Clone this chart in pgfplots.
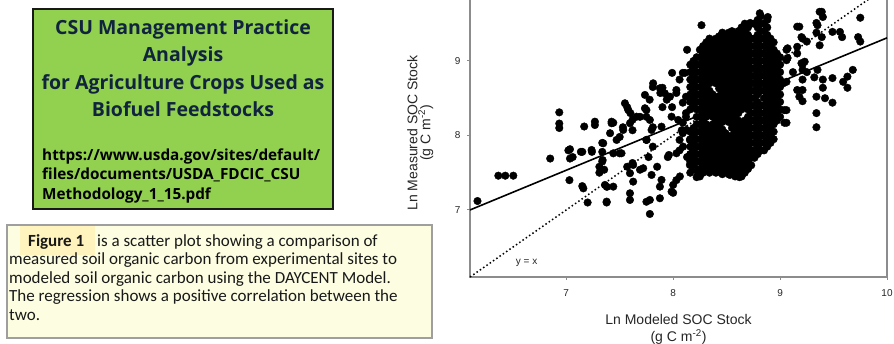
\documentclass[border=0pt]{standalone}
\usepackage{fontspec}
\usepackage{pgfplots}
\pgfplotsset{compat=1.18}
\setmainfont{Liberation Sans}
\newfontfamily\titlefont{Open Sans}
\newfontfamily\bodyfont{Carlito}
\definecolor{boxgreen}{RGB}{146,208,80}
\definecolor{navy}{RGB}{16,36,62}
\definecolor{paleyellow}{RGB}{253,253,226}
\definecolor{hlyellow}{RGB}{255,243,190}
\definecolor{axisgray}{RGB}{140,140,140}
\begin{document}
\begin{tikzpicture}
\path[use as bounding box, clip] (0,0) rectangle (894pt,-343pt);
\fill[white] (0,0) rectangle (894pt,-343pt);
\begin{scope}[x=1pt,y=-1pt]
 % green box
 \draw[line width=2.5pt, draw=black!90, fill=boxgreen] (33,9) rectangle (333,209);
 \begin{scope}[every node/.style={anchor=base, inner sep=0pt, text=navy, font=\titlefont\bfseries\fontsize{19.5}{24}\selectfont}]
  \node at (183,34) {CSU Management Practice};
  \node at (183,61.5) {Analysis};
  \node at (183,89) {for Agriculture Crops Used as};
  \node at (183,116) {Biofuel Feedstocks};
 \end{scope}
 \begin{scope}[every node/.style={anchor=base west, inner sep=0pt, text=black, font=\titlefont\bfseries\fontsize{15.3}{19}\selectfont}]
  \node at (42,160) {https://www.usda.gov/sites/default/};
  \node at (42,179.5) {files/documents/USDA\_FDCIC\_CSU};
  \node at (42,199) {Methodology\_1\_15.pdf};
 \end{scope}
 % yellow box
 \draw[draw=gray!75, line width=1.2pt, fill=paleyellow] (7,225) rectangle (432,338);
 \fill[hlyellow] (20,226) rectangle (95,255);
 \begin{scope}[every node/.style={anchor=base west, inner sep=0pt, text=black!90, font=\bodyfont\fontsize{17}{19}\selectfont}]
  \node[font=\bodyfont\bfseries\fontsize{17}{19}\selectfont] at (28,246) {Figure 1};
  \node at (97,246) {is a scatter plot showing a comparison of};
  \node at (9,264.5) {measured soil organic carbon from experimental sites to};
  \node at (9,283) {modeled soil organic carbon using the DAYCENT Model.};
  \node at (9,301.5) {The regression shows a positive correlation between the};
  \node at (9,320) {two.};
 \end{scope}
\end{scope}
\begin{axis}[
  at={(470pt,-277pt)}, anchor=south west,
  scale only axis, width=417pt, height=279pt,
  xmin=6.1, xmax=10, ymin=6.1, ymax=9.845,
  xtick={7,8,9,10}, ytick={7,8,9},
  tick pos=left, tick align=outside, major tick length=3pt,
  tick style={axisgray, line width=1pt},
  axis line style={axisgray, line width=1.6pt},
  /pgf/number format/assume math mode=true,
  ticklabel style={font=\fontsize{10}{10}\selectfont, text=black!85},
  xticklabel style={yshift=-6pt},
  yticklabel style={xshift=-3pt},
  clip=false,
  xlabel={Ln Modeled SOC Stock\\(g C m\textsuperscript{-2})},
  xlabel style={at={(axis description cs:0.5,-0.133)}, anchor=north, align=center, inner sep=0pt, font=\fontsize{14}{17}\selectfont, text=black!85},
  ylabel={Ln Measured SOC Stock\\(g C m\textsuperscript{-2})},
  ylabel style={at={(axis description cs:-0.0875,0.516)}, anchor=south, align=center, inner sep=0pt, font=\fontsize{14}{13}\selectfont, text=black!85},
]
\addplot[only marks, mark=*, mark size=3.8pt, black] coordinates {
(6.17,7.12) (6.365,7.46) (6.43,7.46) (6.505,7.46) (6.85,7.69) (6.935,8.31) (6.935,8.16) (6.935,8.10)
(7.035,7.815) (7.035,7.69) (7.03,7.40) (7.137,7.78) (7.168,8.12) (7.15,7.32) (7.16,7.29) (7.237,7.805)
(7.268,8.185) (7.268,8.14) (7.2,7.10) (7.337,7.90) (7.337,7.78) (7.337,7.65) (7.355,7.54) (7.362,7.336)
(7.378,7.10) (7.424,8.164) (7.02,7.8) (7.06,7.71) (7.15,7.78) (7.24,7.78) (7.31,7.58) (7.31,7.5)
(7.38,7.31) (7.44,7.313)
(7.813,8.70) (7.876,8.634) (7.922,8.566) (7.736,8.544) (7.736,8.365) (7.549,8.432) (7.58,8.342)
(7.658,8.252) (7.424,8.185) (7.533,8.074) (7.596,8.164) (7.471,7.94) (7.782,8.208) (7.798,8.074)
(7.891,8.118) (7.985,8.252) (8.047,8.208) (7.751,7.94) (7.346,7.895) (7.517,7.761) (7.626,7.604)
(7.596,7.493) (7.626,7.38) (7.596,7.224) (7.596,7.134) (7.378,7.112) (7.72,7.56) (7.798,7.47)
(7.891,7.403) (7.876,7.313) (7.782,7.134) (7.876,7.157) (7.782,6.946) (7.75,7.11) (8.063,7.45)
(8.0,7.336) (7.985,7.246) (8.0,7.23) (8.03,7.4) (7.96,7.738) (8.156,7.604) (8.219,7.537) (8.25,7.45)
(8.16,7.5) (8.22,7.44) (8.125,8.074) (8.156,7.94) (8.093,7.85) (8.031,7.761) (8.06,8.75) (8.09,8.84)
(8.03,8.57) (8.09,8.44) (8.12,8.3) (8.265,9.48) (8.13,7.71) (8.18,7.58) (8.23,7.47) (8.09,8.03)
(8.12,8.25) (7.5,7.98) (7.62,8.07) (7.75,7.94) (7.81,7.85) (7.77,7.71) (7.62,7.63) (7.57,7.58)
(7.69,7.54) (7.85,7.58) (7.95,7.71) (8.06,7.8) (8.06,7.94) (8.08,8.07) (8.09,8.17) (7.44,7.76)
(7.5,7.76) (7.34,7.67) (7.81,8.65) (7.88,8.57) (7.94,8.48) (7.9,8.38) (7.78,8.48) (7.75,8.34)
(7.75,8.25) (7.81,8.11) (7.69,8.25) (7.6,8.3) (7.57,8.38) (7.62,8.21) (7.53,8.11) (7.44,8.17)
(7.41,8.03) (7.99,8.84) (8.13,9.15) (8.03,8.61) (7.97,8.52) (7.99,8.38) (8.12,8.52)
(9.07,9.17) (9.16,9.10) (9.07,9.04) (9.18,9.46) (9.2,9.32) (9.25,9.26) (9.21,8.95) (9.12,8.85)
(9.06,8.72) (9.16,8.61) (9.18,8.52) (9.32,8.78) (9.34,8.30) (9.34,8.11) (9.04,8.34) (9.06,8.17)
(8.9,8.03) (8.88,7.91) (9.39,9.66) (9.40,9.59) (9.35,9.48) (9.34,9.38) (9.39,9.32) (9.37,9.21)
(9.56,9.39) (9.58,9.32) (9.75,9.58) (9.73,9.32) (9.75,9.26) (9.21,9.30) (9.23,8.99) (9.21,8.88)
(9.21,8.75) (9.21,8.61) (9.35,8.88) (9.40,8.75) (9.40,8.64) (9.34,8.52) (9.42,8.50) (9.49,8.44)
(9.49,8.77) (9.59,8.72) (9.63,8.64) (9.63,8.79) (9.68,8.88) (9.16,9.46) (9.16,9.19) (9.06,9.15)
(9.06,9.01) (9.2,8.97) (9.25,8.85) (9.34,9.51) (9.37,9.66) (9.49,9.39) (9.21,8.46) (8.885,9.59)
(8.81,9.64) (8.72,9.51) (8.11,8.84) (7.9,8.64) (9.03,8.7) (9.06,8.34) (9.04,8.17) (8.745,7.71)
(8.69,7.58) (8.89,7.98) (8.9,8.11) (8.44,7.54) (8.53,7.47) (8.62,7.44) (8.37,7.54)
(8.16,7.65) (8.16,7.75) (8.16,7.85) (8.16,7.95) (8.16,8.05) (8.16,8.35) (8.16,8.45) (8.16,8.55) (8.16,8.65) (8.16,8.75) (8.16,8.85) (8.16,8.95)
(8.22,7.55) (8.22,7.65) (8.22,7.75) (8.22,7.85) (8.22,7.95) (8.22,8.05) (8.22,8.15) (8.22,8.25) (8.22,8.35) (8.22,8.45) (8.22,8.55) (8.22,8.65) (8.22,8.75) (8.22,8.85) (8.22,8.95) (8.22,9.05)
(8.28,7.50) (8.28,7.60) (8.28,7.70) (8.28,7.80) (8.28,7.90) (8.28,8.00) (8.28,8.10) (8.28,8.20) (8.28,8.30) (8.28,8.40) (8.28,8.50) (8.28,8.60) (8.28,8.70) (8.28,8.80) (8.28,8.90) (8.28,9.00) (8.28,9.10) (8.28,9.20)
(8.34,7.50) (8.34,7.60) (8.34,7.70) (8.34,7.80) (8.34,7.90) (8.34,8.00) (8.34,8.10) (8.34,8.30) (8.34,8.40) (8.34,8.50) (8.34,8.60) (8.34,8.70) (8.34,8.80) (8.34,8.90) (8.34,9.00) (8.34,9.10) (8.34,9.20) (8.34,9.30)
(8.40,7.50) (8.40,7.60) (8.40,7.70) (8.40,7.80) (8.40,7.90) (8.40,8.00) (8.40,8.10) (8.40,8.20) (8.40,8.30) (8.40,8.40) (8.40,8.50) (8.40,8.70) (8.40,8.80) (8.40,8.90) (8.40,9.00) (8.40,9.10) (8.40,9.20) (8.40,9.30)
(8.46,7.48) (8.46,7.58) (8.46,7.68) (8.46,7.78) (8.46,7.88) (8.46,7.98) (8.46,8.08) (8.46,8.18) (8.46,8.28) (8.46,8.38) (8.46,8.48) (8.46,8.58) (8.46,8.68) (8.46,8.78) (8.46,8.88) (8.46,8.98) (8.46,9.08) (8.46,9.18) (8.46,9.28) (8.46,9.38)
(8.52,7.48) (8.52,7.58) (8.52,7.68) (8.52,7.78) (8.52,7.88) (8.52,7.98) (8.52,8.18) (8.52,8.28) (8.52,8.38) (8.52,8.48) (8.52,8.58) (8.52,8.68) (8.52,8.78) (8.52,8.88) (8.52,8.98) (8.52,9.08) (8.52,9.18) (8.52,9.28) (8.52,9.38)
(8.58,7.45) (8.58,7.55) (8.58,7.65) (8.58,7.75) (8.58,7.85) (8.58,7.95) (8.58,8.05) (8.58,8.15) (8.58,8.25) (8.58,8.35) (8.58,8.45) (8.58,8.55) (8.58,8.65) (8.58,8.75) (8.58,8.85) (8.58,8.95) (8.58,9.05) (8.58,9.15) (8.58,9.25) (8.58,9.35)
(8.64,7.45) (8.64,7.55) (8.64,7.65) (8.64,7.75) (8.64,7.85) (8.64,7.95) (8.64,8.05) (8.64,8.15) (8.64,8.35) (8.64,8.45) (8.64,8.55) (8.64,8.65) (8.64,8.75) (8.64,8.85) (8.64,8.95) (8.64,9.05) (8.64,9.15) (8.64,9.25) (8.64,9.35) (8.64,9.45)
(8.70,7.55) (8.70,7.65) (8.70,7.75) (8.70,7.85) (8.70,7.95) (8.70,8.05) (8.70,8.15) (8.70,8.25) (8.70,8.35) (8.70,8.45) (8.70,8.55) (8.70,8.65) (8.70,8.75) (8.70,8.85) (8.70,8.95) (8.70,9.05) (8.70,9.15) (8.70,9.25) (8.70,9.35) (8.70,9.45)
(8.76,7.70) (8.76,7.80) (8.76,7.90) (8.76,8.00) (8.76,8.10) (8.76,8.20) (8.76,8.30) (8.76,8.40) (8.76,8.50) (8.76,8.60) (8.76,8.70) (8.76,8.80) (8.76,8.90) (8.76,9.00) (8.76,9.10) (8.76,9.20) (8.76,9.30) (8.76,9.50)
(8.82,7.80) (8.82,7.90) (8.82,8.00) (8.82,8.10) (8.82,8.20) (8.82,8.30) (8.82,8.40) (8.82,8.60) (8.82,8.70) (8.82,8.80) (8.82,8.90) (8.82,9.00) (8.82,9.10) (8.82,9.20) (8.82,9.30) (8.82,9.40) (8.82,9.50) (8.82,9.60)
(8.88,7.85) (8.88,7.95) (8.88,8.05) (8.88,8.15) (8.88,8.25) (8.88,8.35) (8.88,8.45) (8.88,8.55) (8.88,8.65) (8.88,8.75) (8.88,8.85) (8.88,8.95) (8.88,9.05) (8.88,9.15) (8.88,9.25) (8.88,9.35) (8.88,9.45) (8.88,9.55)
(8.94,7.95) (8.94,8.05) (8.94,8.15) (8.94,8.25) (8.94,8.35) (8.94,8.45) (8.94,8.55) (8.94,8.65) (8.94,8.75) (8.94,8.85) (8.94,8.95) (8.94,9.05) (8.94,9.15) (8.94,9.25)
(9.00,8.25) (9.00,8.35) (9.00,8.45) (9.00,8.55) (9.00,8.65) (9.00,8.75) (9.00,8.85) (9.00,8.95) (9.00,9.05)
(8.19,7.60) (8.19,7.70) (8.19,7.80) (8.19,7.90) (8.19,8.00) (8.19,8.10) (8.19,8.40) (8.19,8.50) (8.19,8.60) (8.19,8.70) (8.19,8.80) (8.19,8.90) (8.19,9.00)
(8.25,7.55) (8.25,7.65) (8.25,7.75) (8.25,7.85) (8.25,7.95) (8.25,8.05) (8.25,8.15) (8.25,8.25) (8.25,8.35) (8.25,8.45) (8.25,8.55) (8.25,8.65) (8.25,8.75) (8.25,8.85) (8.25,8.95) (8.25,9.05) (8.25,9.15)
(8.31,7.55) (8.31,7.65) (8.31,7.75) (8.31,7.85) (8.31,7.95) (8.31,8.05) (8.31,8.15) (8.31,8.25) (8.31,8.35) (8.31,8.45) (8.31,8.55) (8.31,8.65) (8.31,8.75) (8.31,8.85) (8.31,8.95) (8.31,9.05) (8.31,9.15) (8.31,9.25)
(8.37,7.55) (8.37,7.65) (8.37,7.75) (8.37,7.85) (8.37,7.95) (8.37,8.05) (8.37,8.15) (8.37,8.25) (8.37,8.35) (8.37,8.45) (8.37,8.55) (8.37,8.75) (8.37,8.85) (8.37,8.95) (8.37,9.05) (8.37,9.15) (8.37,9.25)
(8.43,7.53) (8.43,7.63) (8.43,7.73) (8.43,7.83) (8.43,7.93) (8.43,8.03) (8.43,8.13) (8.43,8.23) (8.43,8.33) (8.43,8.43) (8.43,8.53) (8.43,8.63) (8.43,8.73) (8.43,8.83) (8.43,8.93) (8.43,9.03) (8.43,9.13) (8.43,9.23) (8.43,9.33)
(8.49,7.53) (8.49,7.63) (8.49,7.73) (8.49,7.83) (8.49,7.93) (8.49,8.03) (8.49,8.23) (8.49,8.33) (8.49,8.43) (8.49,8.53) (8.49,8.63) (8.49,8.73) (8.49,8.83) (8.49,8.93) (8.49,9.03) (8.49,9.13) (8.49,9.23) (8.49,9.33)
(8.55,7.50) (8.55,7.60) (8.55,7.70) (8.55,7.80) (8.55,7.90) (8.55,8.00) (8.55,8.10) (8.55,8.20) (8.55,8.30) (8.55,8.40) (8.55,8.50) (8.55,8.60) (8.55,8.70) (8.55,8.80) (8.55,8.90) (8.55,9.00) (8.55,9.10) (8.55,9.20) (8.55,9.30) (8.55,9.40)
(8.61,7.50) (8.61,7.60) (8.61,7.70) (8.61,7.80) (8.61,7.90) (8.61,8.00) (8.61,8.10) (8.61,8.20) (8.61,8.30) (8.61,8.40) (8.61,8.50) (8.61,8.60) (8.61,8.70) (8.61,8.80) (8.61,8.90) (8.61,9.00) (8.61,9.10) (8.61,9.20) (8.61,9.30) (8.61,9.40)
(8.67,7.50) (8.67,7.60) (8.67,7.70) (8.67,7.80) (8.67,7.90) (8.67,8.00) (8.67,8.10) (8.67,8.20) (8.67,8.40) (8.67,8.50) (8.67,8.60) (8.67,8.70) (8.67,8.80) (8.67,8.90) (8.67,9.00) (8.67,9.10) (8.67,9.20) (8.67,9.30) (8.67,9.40) (8.67,9.50)
(8.73,7.60) (8.73,7.70) (8.73,7.80) (8.73,7.90) (8.73,8.00) (8.73,8.10) (8.73,8.20) (8.73,8.30) (8.73,8.40) (8.73,8.50) (8.73,8.60) (8.73,8.70) (8.73,8.80) (8.73,8.90) (8.73,9.00) (8.73,9.10) (8.73,9.20) (8.73,9.30) (8.73,9.50)
(8.79,7.75) (8.79,7.85) (8.79,7.95) (8.79,8.05) (8.79,8.15) (8.79,8.25) (8.79,8.35) (8.79,8.45) (8.79,8.55) (8.79,8.65) (8.79,8.75) (8.79,8.85) (8.79,8.95) (8.79,9.05) (8.79,9.15) (8.79,9.25) (8.79,9.35) (8.79,9.45) (8.79,9.55)
(8.85,7.80) (8.85,7.90) (8.85,8.00) (8.85,8.10) (8.85,8.20) (8.85,8.30) (8.85,8.40) (8.85,8.50) (8.85,8.60) (8.85,8.70) (8.85,8.80) (8.85,8.90) (8.85,9.00) (8.85,9.10) (8.85,9.20) (8.85,9.30) (8.85,9.40) (8.85,9.50)
(8.91,7.90) (8.91,8.00) (8.91,8.10) (8.91,8.20) (8.91,8.30) (8.91,8.40) (8.91,8.50) (8.91,8.60) (8.91,8.70) (8.91,8.80) (8.91,8.90) (8.91,9.00) (8.91,9.10) (8.91,9.20) (8.91,9.30)
(8.97,8.20) (8.97,8.30) (8.97,8.40) (8.97,8.50) (8.97,8.60) (8.97,8.70) (8.97,8.80) (8.97,8.90) (8.97,9.00) (8.97,9.10)
};
\addplot[black, line width=1.6pt] coordinates {(6.1,7.0) (10,9.31)};
\addplot[black, line width=1.5pt, dash pattern=on 1.5pt off 2.5pt] coordinates {(6.1,6.1) (9.845,9.845)};
\node[font=\fontsize{10}{10}\selectfont, text=black!85] at (axis cs:6.63,6.29) {y = x};
\end{axis}
\end{tikzpicture}
\end{document}
